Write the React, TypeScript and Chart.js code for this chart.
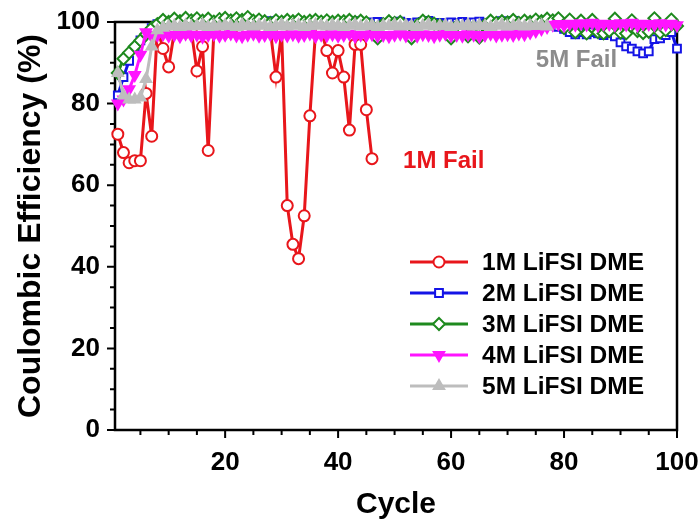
import React, { useEffect, useRef } from 'react';
import { Chart, registerables } from 'chart.js';

Chart.register(...registerables);

const cycles = [
  1, 2, 3, 4, 5, 6, 7, 8, 9, 10, 11, 12, 13, 14, 15, 16, 17, 18, 19, 20,
  21, 22, 23, 24, 25, 26, 27, 28, 29, 30, 31, 32, 33, 34, 35, 36, 37, 38, 39, 40,
  41, 42, 43, 44, 45, 46, 47, 48, 49, 50, 51, 52, 53, 54, 55, 56, 57, 58, 59, 60,
  61, 62, 63, 64, 65, 66, 67, 68, 69, 70, 71, 72, 73, 74, 75, 76, 77, 78, 79, 80,
  81, 82, 83, 84, 85, 86, 87, 88, 89, 90, 91, 92, 93, 94, 95, 96, 97, 98, 99, 100,
];

const xMajorTicks = [20, 40, 60, 80, 100];
const yMajorTicks = [0, 20, 40, 60, 80, 100];
const xMinorTicks = [5, 10, 15, 20, 25, 30, 35, 40, 45, 50, 55, 60, 65, 70, 75, 80, 85, 90, 95, 100];
const yMinorTicks = [0, 5, 10, 15, 20, 25, 30, 35, 40, 45, 50, 55, 60, 65, 70, 75, 80, 85, 90, 95, 100];

const seriesNames = ['1M LiFSI DME', '2M LiFSI DME', '3M LiFSI DME', '4M LiFSI DME', '5M LiFSI DME'];

const ce1M = [
  72.5, 68, 65.5, 66, 66, 82.5, 72, 98.5, 93.5, 89,
  97.5, 98, 97.5, 98, 88, 94, 68.5, 97.5, 98, 97.5,
  98, 98, 97.5, 98, 98, 97.5, 98, 98, 86.5, 97.5,
  55, 45.5, 42, 52.5, 77, 97.5, 98, 93, 87.5, 93,
  86.5, 73.5, 94.5, 94.5, 78.5, 66.5,
];

const ce2M = [
  82, 86.5, 90.5, 93.5, 95.5, 97, 98.5, 99.5, 99.8, 100,
  99.7, 100, 99.6, 99.9, 100.2, 99.8, 99.6, 100, 99.9, 99.7,
  100.1, 99.8, 99.6, 99.9, 100, 99.7, 99.8, 100.2, 99.6, 99.9,
  99.8, 100, 99.7, 99.5, 99.9, 100.1, 99.8, 99.6, 100, 99.8,
  99.7, 99.9, 100.2, 99.6, 99.8, 99.9, 100, 99.7, 99.5, 99.9,
  100.1, 99.8, 99.6, 99.9, 100, 100.3, 99.7, 99.8, 99.6, 99.9,
  99.8, 100, 99.7, 99.9, 100.1, 99.6, 99.8, 99.9, 100.2, 99.7,
  100.3, 99.8, 99.6, 99.9, 99.7, 99.8, 99.5, 99.2, 98.8, 98.3,
  97.5, 97, 97.5, 97, 97.5, 97.2, 96.8, 97.3, 96.5, 95,
  94, 93.5, 92.8, 92.3, 92.8, 95.8, 96, 96.8, 97.5, 93.5,
];

const ce3M = [
  87.5, 91, 92.5, 94, 95.5, 97, 98.5, 99.5, 100.5, 100,
  100.8, 100.2, 101, 100.4, 100.9, 100.3, 100.8, 100.1, 100.7, 101,
  100.4, 100.9, 100.5, 101.2, 100.3, 100.6, 100.2, 99.8, 100.4, 100.1,
  100.5, 100.2, 100.6, 100, 100.3, 100.5, 100.1, 100.4, 100, 100.3,
  100.2, 100.5, 100, 100.3, 99.9, 99, 96, 99.5, 100.2, 99.8,
  100, 98.5, 96, 99.2, 100.3, 100, 99.6, 99.2, 98, 96,
  99, 98.2, 96.5, 98.8, 96.2, 99.3, 100.3, 99.8, 100.2, 99.9,
  100.5, 99.8, 100.3, 100, 100.6, 100.2, 100.8, 100.4, 100.9, 98.5,
  100.6, 97.5, 100.3, 97.2, 100.5, 97.5, 97.2, 97.8, 100.8, 97.4,
  97.2, 100.4, 97.8, 97.3, 97.6, 100.9, 97.4, 98, 100.6, 99,
];

const ce4M = [
  80, 81, 83.5, 87, 92, 97.5, 96.5, 96.8, 97, 96.6,
  96.9, 96.5, 97.1, 96.7, 96.9, 96.4, 96.8, 97, 96.6, 96.9,
  97.2, 96.7, 96.5, 96.9, 97.1, 96.6, 96.8, 97, 96.5, 96.9,
  96.7, 97, 96.6, 96.8, 97.2, 96.5, 96.9, 96.7, 97, 96.6,
  96.8, 97.1, 96.5, 96.9, 96.7, 97, 96.6, 96.8, 96.5, 96.9,
  97.1, 96.7, 96.9, 96.6, 97, 96.8, 96.5, 96.9, 97.1, 96.7,
  96.8, 96.6, 97, 96.9, 96.5, 96.8, 97.1, 96.7, 96.9, 97,
  96.8, 97.2, 97, 97.4, 97.8, 98.3, 98.8, 99.3, 99.5, 99.2,
  99.6, 99.3, 99.7, 99.4, 99.8, 99.2, 99.6, 99.5, 99.3, 99.7,
  99.4, 99.8, 99.2, 99.6, 99.5, 99.3, 99.7, 99.4, 99.6, 99.2,
];

const ce5M = [
  87.5, 82, 81, 81, 81.5, 86, 94, 98, 98.6, 98.9,
  99.1, 98.8, 99.2, 98.9, 99, 99.3, 98.8, 99.1, 98.9, 99.2,
  99, 98.8, 99.3, 99, 98.9, 99.2, 99.1, 98.8, 99, 99.3,
  98.9, 99.1, 99.2, 98.8, 99, 99.3, 99.1, 98.9, 99.2, 99,
  98.8, 99.1, 99.3, 98.9, 99, 99.2, 98.8, 99.1, 99, 99.3,
  98.9, 99.2, 99, 98.8, 99.1, 99.3, 98.9, 99, 99.2, 98.8,
  99.1, 99, 99.3, 98.9, 99.2, 99, 98.8, 99.1, 99.3, 98.9,
  99, 99.2, 98.9, 99.1, 99, 99.2, 98.9,
];

const annotations = [
  { text: '1M Fail', x: 58.7, y: 65.8, color: '#e8161b' },
  { text: '5M Fail', x: 82.2, y: 90.5, color: '#8c8c8c' },
];

const FONT = "'Liberation Sans', Arial, sans-serif";

const styles = [
  { color: '#e8161b', pointStyle: 'circle', radius: 5.5, fill: '#ffffff', rotation: 0 },
  { color: '#1414e6', pointStyle: 'rect', radius: 5.5, fill: '#ffffff', rotation: 0 },
  { color: '#1e8a1e', pointStyle: 'rectRot', radius: 6, fill: '#ffffff', rotation: 0 },
  { color: '#ff14ff', pointStyle: 'triangle', radius: 6, fill: '#ff14ff', rotation: 180 },
  { color: '#bdbdbd', pointStyle: 'triangle', radius: 6, fill: '#bdbdbd', rotation: 0 },
];

const seriesValues = [ce1M, ce2M, ce3M, ce4M, ce5M];

function drawMarker(ctx: CanvasRenderingContext2D, st: any, x: number, y: number) {
  ctx.save();
  ctx.translate(x, y);
  ctx.rotate((st.rotation * Math.PI) / 180);
  ctx.beginPath();
  const r = st.radius;
  if (st.pointStyle === 'circle') {
    ctx.arc(0, 0, r, 0, Math.PI * 2);
  } else if (st.pointStyle === 'rect') {
    const s = r * Math.SQRT1_2;
    ctx.rect(-s, -s, 2 * s, 2 * s);
  } else if (st.pointStyle === 'rectRot') {
    ctx.moveTo(0, -r);
    ctx.lineTo(r, 0);
    ctx.lineTo(0, r);
    ctx.lineTo(-r, 0);
    ctx.closePath();
  } else {
    ctx.moveTo(0, -r);
    ctx.lineTo(r * 0.866, r * 0.5);
    ctx.lineTo(-r * 0.866, r * 0.5);
    ctx.closePath();
  }
  ctx.fillStyle = st.fill;
  ctx.fill();
  ctx.lineWidth = 2;
  ctx.strokeStyle = st.color;
  ctx.stroke();
  ctx.restore();
}

const decorPlugin = {
  id: 'decor',
  beforeDatasetsDraw(chart: any) {
    const { ctx, chartArea: a, scales } = chart;
    const xs = scales.x;
    const ys = scales.y;
    ctx.save();
    ctx.strokeStyle = '#000';
    ctx.lineWidth = 2.5;
    ctx.strokeRect(a.left, a.top, a.right - a.left, a.bottom - a.top);
    ctx.lineWidth = 2;
    ctx.beginPath();
    xMinorTicks.forEach((v) => {
      const px = xs.getPixelForValue(v);
      const len = xMajorTicks.includes(v) ? 8 : 5;
      ctx.moveTo(px, a.bottom);
      ctx.lineTo(px, a.bottom + len);
    });
    yMinorTicks.forEach((v) => {
      const py = ys.getPixelForValue(v);
      const len = yMajorTicks.includes(v) ? 8 : 5;
      ctx.moveTo(a.left, py);
      ctx.lineTo(a.left - len, py);
    });
    ctx.stroke();
    ctx.restore();
  },
  afterDraw(chart: any) {
    const { ctx, scales } = chart;
    ctx.save();
    ctx.font = `bold 24px ${FONT}`;
    ctx.textAlign = 'center';
    ctx.textBaseline = 'middle';
    annotations.forEach((an) => {
      ctx.fillStyle = an.color;
      ctx.fillText(an.text, scales.x.getPixelForValue(an.x), scales.y.getPixelForValue(an.y));
    });
    const lx0 = 410;
    const lx1 = 468;
    const ly0 = 262;
    const lstep = 31;
    ctx.textAlign = 'left';
    seriesNames.forEach((name, i) => {
      const st = styles[i];
      const y = ly0 + i * lstep;
      ctx.strokeStyle = st.color;
      ctx.lineWidth = 3;
      ctx.beginPath();
      ctx.moveTo(lx0, y);
      ctx.lineTo(lx1, y);
      ctx.stroke();
      drawMarker(ctx, st, (lx0 + lx1) / 2, y);
      ctx.fillStyle = '#000';
      ctx.font = `bold 24.5px ${FONT}`;
      ctx.fillText(name, 482, y + 1);
    });
    ctx.restore();
  },
};

export default function App() {
  const ref = useRef<HTMLCanvasElement>(null);
  useEffect(() => {
    if (!ref.current) return;
    const datasets = seriesValues.map((vals, i) => {
      const st = styles[i];
      return {
        label: seriesNames[i],
        data: vals.map((v, j) => ({ x: cycles[j], y: v })),
        borderColor: st.color,
        backgroundColor: st.fill,
        borderWidth: 3,
        pointStyle: st.pointStyle,
        pointRadius: st.radius,
        pointRotation: st.rotation,
        pointBorderWidth: 2,
        pointBorderColor: st.color,
        pointBackgroundColor: st.fill,
        tension: 0,
        clip: false,
        order: 5 - i,
      };
    });
    const chart = new Chart(ref.current, {
      type: 'line',
      data: { datasets },
      plugins: [decorPlugin],
      options: {
        responsive: false,
        animation: false,
        layout: { padding: { top: 22, right: 22, left: 0, bottom: 0 } },
        plugins: { legend: { display: false }, tooltip: { enabled: false } },
        scales: {
          x: {
            type: 'linear',
            min: 0.5,
            max: 100,
            afterBuildTicks: (s: any) => {
              s.ticks = xMajorTicks.map((v) => ({ value: v }));
            },
            afterFit: (s: any) => {
              s.height = 100;
              s.paddingLeft = 0;
              s.paddingRight = 0;
            },
            grid: { display: false, drawTicks: false },
            border: { display: false },
            ticks: {
              color: '#000',
              font: { family: FONT, size: 26, weight: 'bold' },
              padding: 17,
              maxRotation: 0,
              autoSkip: false,
            },
            title: {
              display: true,
              text: 'Cycle',
              color: '#000',
              font: { family: FONT, size: 30, weight: 'bold' },
              padding: { top: 0, bottom: 7 },
            },
          },
          y: {
            type: 'linear',
            min: 0,
            max: 100,
            afterBuildTicks: (s: any) => {
              s.ticks = yMajorTicks.map((v) => ({ value: v }));
            },
            afterFit: (s: any) => {
              s.width = 115;
              s.paddingTop = 0;
              s.paddingBottom = 0;
            },
            grid: { display: false, drawTicks: false },
            border: { display: false },
            ticks: {
              color: '#000',
              font: { family: FONT, size: 26, weight: 'bold' },
              padding: 15,
            },
            title: {
              display: true,
              text: 'Coulombic Efficiency (%)',
              color: '#000',
              font: { family: FONT, size: 32, weight: 'bold' },
              padding: { top: 12, bottom: 0 },
            },
          },
        },
      },
    } as any);
    return () => chart.destroy();
  }, []);
  return (
    <div style={{ position: 'absolute', left: 0, top: 0, width: 699, height: 530, background: '#fff' }}>
      <canvas ref={ref} width={699} height={530} />
    </div>
  );
}
